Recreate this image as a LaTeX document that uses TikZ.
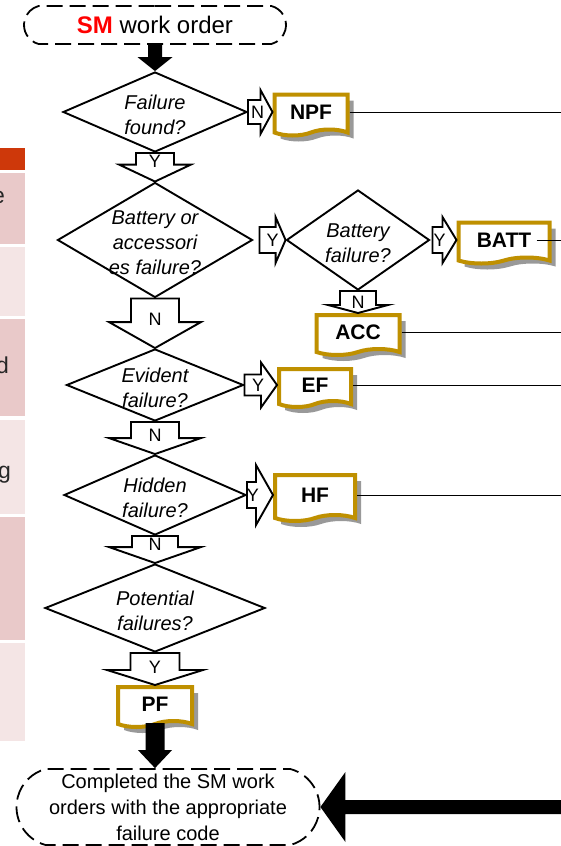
\documentclass[tikz,border=0pt]{standalone}
\usepackage{fontspec}
\setmainfont{Liberation Sans}
\usetikzlibrary{calc,shapes.geometric,shapes.misc,shapes.symbols,shadows}

\definecolor{gold}{RGB}{191,144,0}
\definecolor{smred}{RGB}{255,0,0}
\definecolor{tblhead}{RGB}{206,56,10}
\definecolor{tbldark}{RGB}{233,201,201}
\definecolor{tbllight}{RGB}{244,229,229}

\tikzset{
  terminal/.style={rounded rectangle, rounded rectangle arc length=150, draw,
    line width=1.8pt, dash pattern=on 16pt off 7pt, align=center, inner sep=0pt},
  decision/.style={diamond, draw, line width=1.9pt, inner sep=0pt},
  qtext/.style={font=\itshape\fontsize{20}{25}\selectfont, align=center, yshift=-3pt, inner sep=0pt},
  codebox/.style={tape, tape bend top=none, tape bend bottom=in and out, tape bend height=6pt,
    draw=gold, line width=4pt, fill=white, inner sep=0pt,
    font=\bfseries\fontsize{21}{25}\selectfont,
    drop shadow={shadow xshift=6pt, shadow yshift=-6pt, fill=black!40, opacity=1}},
  flowline/.style={draw, line width=1.9pt, fill=white, line join=miter},
  flowfill/.style={fill=black},
  yn/.style={font=\fontsize{18}{21}\selectfont, inner sep=0pt},
  tbltext/.style={anchor=base east, font=\fontsize{23}{28}\selectfont, text=black!85, inner sep=0pt},
}

% block arrow from #2 to #3: half shaft #4, half head #5, head length #6, label #7
\newcommand{\flowarrow}[7][flowline]{%
  \coordinate (fa-s) at (#2);
  \coordinate (fa-e) at (#3);
  \coordinate (fa-h) at ($(fa-e)!#6!(fa-s)$);
  \path[#1] ($(fa-s)!#4!90:(fa-e)$) -- ($(fa-h)!#4!90:(fa-e)$) -- ($(fa-h)!#5!90:(fa-e)$) -- (fa-e)
    -- ($(fa-h)!#5!-90:(fa-e)$) -- ($(fa-h)!#4!-90:(fa-e)$) -- ($(fa-s)!#4!-90:(fa-e)$) -- cycle;
  \if\relax\detokenize{#7}\relax\else
    \node[yn] at ($(fa-h)!3pt!(fa-s)$) {#7};
  \fi
}

\begin{document}
\begin{tikzpicture}[x=1pt,y=-1pt]
    \useasboundingbox (0,0) rectangle (561,846);
    \coordinate (rim) at (561,0);

    % Table rows on the left
    \fill[tblhead]  (0,148) rectangle (25,170);
    \fill[tbldark]  (0,173) rectangle (25,244);
    \fill[tbllight] (0,247) rectangle (25,316);
    \fill[tbldark]  (0,319) rectangle (25,416);
    \fill[tbllight] (0,420) rectangle (25,514);
    \fill[tbldark]  (0,517) rectangle (25,640);
    \fill[tbllight] (0,643) rectangle (25,741);
    \node[tbltext] (tbl-e) at (5,203) {e};
    \node[tbltext] (tbl-d) at (9,373) {d};
    \node[tbltext] (tbl-g) at (11,478) {g};

    % Start and end
    \node[terminal, minimum width=262pt, minimum height=38pt, font=\fontsize{24}{28}\selectfont]
        (start) at (155,25) {\textcolor{smred}{\bfseries SM} work order};
    \node[terminal, minimum width=303pt, minimum height=76pt, font=\fontsize{20}{26}\selectfont]
        (finish) at (168,807) {Completed the SM work\\orders with the appropriate\\failure code};

    % Decisions
    \node[decision, minimum width=184pt, minimum height=80pt,
        label={[qtext]center:Failure\\found?}] (d1) at (155,112) {};
    \node[decision, minimum width=195pt, minimum height=115pt,
        label={[qtext]center:Battery or\\accessori\\es failure?}] (d2) at (155,240) {};
    \node[decision, minimum width=143pt, minimum height=100pt,
        label={[qtext]center:Battery\\failure?}] (d3) at (358,240) {};
    \node[decision, minimum width=177pt, minimum height=72pt,
        label={[qtext]center:Evident\\failure?}] (d4) at (155,385) {};
    \node[decision, minimum width=182pt, minimum height=80pt,
        label={[qtext]center:Hidden\\failure?}] (d5) at (155,495) {};
    \node[decision, minimum width=220pt, minimum height=88pt,
        label={[qtext]center:Potential\\failures?}] (d6) at (155,608) {};

    % Failure codes
    \node[codebox, minimum width=73pt, minimum height=41pt] (npf) at (311,112) {NPF};
    \node[codebox, minimum width=91pt, minimum height=41pt] (batt) at (504,240) {BATT};
    \node[codebox, minimum width=83pt, minimum height=40pt] (acc) at (358,332) {ACC};
    \node[codebox, minimum width=72pt, minimum height=38pt] (ef) at (315,385) {EF};
    \node[codebox, minimum width=80pt, minimum height=46pt] (hf) at (315,495) {HF};
    \node[codebox, minimum width=74pt, minimum height=40pt] (pf) at (155,704) {PF};

    % Lines leaving to the right
    \draw[line width=1pt] (npf.east) -- (npf.east -| rim);
    \draw[line width=1pt] ([xshift=-15pt]batt.east) -- (batt.east -| rim);
    \draw[line width=1pt] (acc.east) -- (acc.east -| rim);
    \draw[line width=1pt] (ef.east) -- (ef.east -| rim);
    \draw[line width=1pt] (hf.east) -- (hf.east -| rim);

    % Yes / no arrows
    \flowarrow{d1.south}{d2.north}{19pt}{36pt}{17pt}{Y}
    \flowarrow{d1.east}{npf.west}{12pt}{22pt}{12pt}{N}
    \flowarrow{[xshift=6pt]d2.east}{d3.west}{13pt}{23pt}{10pt}{Y}
    \flowarrow{[xshift=2pt]d3.east}{batt.west}{13pt}{23pt}{14pt}{Y}
    \flowarrow{d3.south}{acc.north}{18pt}{30pt}{8pt}{N}
    \flowarrow{d2.south}{d4.north}{24pt}{46pt}{26pt}{N}
    \flowarrow{d4.east}{ef.west}{10.5pt}{22.5pt}{16pt}{Y}
    \flowarrow{d4.south}{d5.north}{24pt}{46pt}{16pt}{N}
    \flowarrow{d5.east}{hf.west}{13pt}{30pt}{17pt}{Y}
    \flowarrow{d5.south}{d6.north}{23pt}{46pt}{16pt}{N}
    \flowarrow{d6.south}{pf.north}{24.5pt}{48pt}{15pt}{Y}

    % Solid arrows
    \flowarrow[flowfill]{start.south}{d1.north}{7pt}{17.5pt}{14pt}{}
    \flowarrow[flowfill]{pf.south}{pf.south |- finish.north}{9.5pt}{17pt}{18pt}{}
    \flowarrow[flowfill]{finish.east -| rim}{finish.east}{7pt}{35pt}{25pt}{}

\end{tikzpicture}
\end{document}
